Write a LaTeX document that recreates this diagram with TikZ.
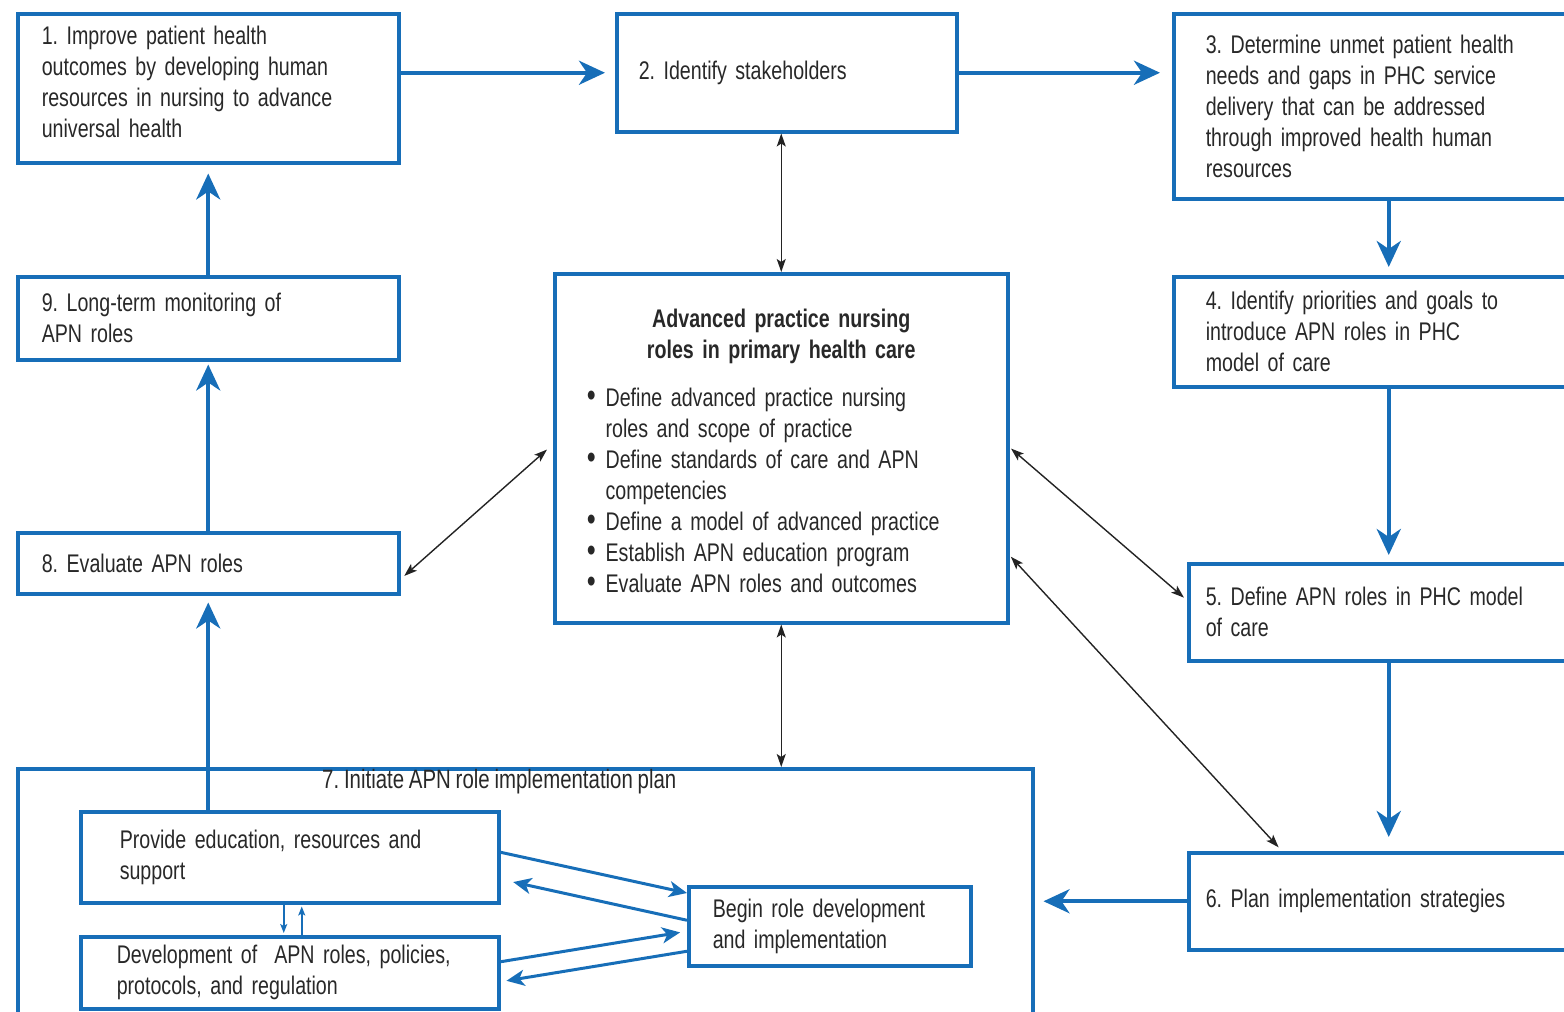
\documentclass[tikz,border=0pt]{standalone}
\usepackage{fontspec}
\setmainfont{Liberation Sans}[FakeStretch=0.77,WordSpace=0.85]
\usepackage{tikz}
\usetikzlibrary{arrows.meta}
\frenchspacing

\begin{document}
\begin{tikzpicture}[x=1pt,y=1pt,yscale=-1,xscale=1,
    box/.style={draw={rgb, 255:red, 23; green, 110; blue, 184 }, line width=3.5pt, anchor=north west, inner ysep=0pt, align=left, text={rgb, 255:red, 40; green, 40; blue, 40 }, font=\fontsize{25.5}{31}\selectfont},
    flow/.style={draw={rgb, 255:red, 23; green, 110; blue, 184 }, line width=4pt, -{Stealth[length=26pt,width=24pt,inset=8pt]}},
    inflow/.style={draw={rgb, 255:red, 23; green, 110; blue, 184 }, line width=3pt, -{Stealth[length=18pt,width=16pt,inset=5pt]}},
    tinyflow/.style={draw={rgb, 255:red, 23; green, 110; blue, 184 }, line width=1.5pt, -{Stealth[length=9pt,width=7pt,inset=2pt]}},
    link/.style={draw={rgb, 255:red, 35; green, 35; blue, 35 }, line width=1.4pt, {Stealth[length=13pt,width=9pt,inset=3pt]}-{Stealth[length=13pt,width=9pt,inset=3pt]}}]
      \useasboundingbox (0,0) rectangle (1564,1012);
      \clip (0,0) rectangle (1564,1012);

      %Shape: Rectangle [outer boxes]
      \node [box, inner xsep=24pt, text width=333pt, minimum height=149pt] (b1) at (16,12) {1. Improve patient health\\outcomes by developing human\\resources in nursing to advance\\universal health\par\vspace*{12pt}};
      \node [box, inner xsep=22pt, text width=296pt, minimum height=118pt] (b2) at (615,12) {2. Identify stakeholders};
      \node [box, inner xsep=32pt, text width=366pt, minimum height=185pt] (b3) at (1172,12) {3. Determine unmet patient health\\needs and gaps in PHC service\\delivery that can be addressed\\through improved health human\\resources};
      \node [box, inner xsep=32pt, text width=366pt, minimum height=110pt] (b4) at (1172,275) {4. Identify priorities and goals to\\introduce APN roles in PHC\\model of care};
      \node [box, inner xsep=17pt, text width=366pt, minimum height=97pt] (b5) at (1187,562) {5. Define APN roles in PHC model\\of care};
      \node [box, inner xsep=17pt, text width=366pt, minimum height=97pt] (b6) at (1187,851) {6. Plan implementation strategies};
      \node [box, minimum width=1015pt, minimum height=270pt] (b7) at (16,767) {};
      \node [box, inner xsep=24pt, text width=333pt, minimum height=61pt] (b8) at (16,531) {8. Evaluate APN roles};
      \node [box, inner xsep=24pt, text width=333pt, minimum height=83pt] (b9) at (16,275) {9. Long-term monitoring of\\APN roles};

      %Shape: Rectangle [centre box]
      \node [box, inner xsep=32pt, text width=389pt, minimum height=349pt] (apn) at (553,272) {{\centering\bfseries\rule{0pt}{33pt}Advanced practice nursing\\roles in primary health care\par}\vspace{17pt}\noindent
        \begin{tabular}[t]{@{}l@{\hspace{10pt}}l@{}}
          {\fontsize{33}{31}\selectfont\textbullet} & Define advanced practice nursing\\
                      & roles and scope of practice\\
          {\fontsize{33}{31}\selectfont\textbullet} & Define standards of care and APN\\
                      & competencies\\
          {\fontsize{33}{31}\selectfont\textbullet} & Define a model of advanced practice\\
          {\fontsize{33}{31}\selectfont\textbullet} & Establish APN education program\\
          {\fontsize{33}{31}\selectfont\textbullet} & Evaluate APN roles and outcomes
        \end{tabular}};

      %Shape: Rectangle [inside box 7]
      \node [box, inner xsep=39pt, text width=340pt, minimum height=91pt] (pro) at (79,810) {Provide education, resources and\\support};
      \node [box, inner xsep=36pt, text width=346pt, minimum height=72pt] (dev) at (79,935) {Development of~ APN roles, policies,\\protocols, and regulation};
      \node [box, inner xsep=24pt, text width=234pt, minimum height=79pt] (bg) at (687,885) {Begin role development\\and implementation};

      % Text Node
      \node [anchor=west, inner sep=0pt, text={rgb, 255:red, 40; green, 40; blue, 40 }, font=\fontsize{26.5}{31}\selectfont] (lab7) at (322,782) {7. Initiate APN role implementation plan};

      %Straight Lines [main cycle]
      \draw [flow, shorten >=10pt] (b1.east |- b2.west) -- (b2.west);
      \draw [flow, shorten >=12pt] (b2.east) -- (b2.east -| b3.west);
      \draw [flow, shorten >=8pt] (b3.south) -- (b4.north);
      \draw [flow, shorten >=7pt] (b4.south) -- (b5.north);
      \draw [flow, shorten >=14pt] (b5.south) -- (b6.north);
      \draw [flow, shorten >=9pt] (b6.west) -- (b6.west -| b7.east);
      \draw [flow, shorten >=7pt] (b8.south |- pro.north) -- (b8.south);
      \draw [flow, shorten >=3pt] (b8.north) -- (b9.south);
      \draw [flow, shorten >=9pt] (b9.north) -- (b1.south);

      %Straight Lines [links to centre box]
      \draw [link] (apn.north |- b2.south) -- (apn.north);
      \draw [link] (apn.south) -- (apn.south |- b7.north);
      \draw [link, shorten <=8pt, shorten >=5pt] ([yshift=-4pt]apn.west) -- ([yshift=16pt]b8.east);
      \draw [link, shorten <=2pt, shorten >=4pt] ([yshift=-1pt]apn.east) -- ([yshift=-12pt]b5.west);
      \draw [link, shorten <=2pt, shorten >=5pt] ([yshift=107pt]apn.east) -- ([xshift=95pt]b6.north west);

      %Straight Lines [inside box 7]
      \draw [inflow] ([yshift=-5pt]pro.east) -- ([yshift=8pt]bg.north west);
      \draw [inflow, shorten >=13pt] ([yshift=-6pt]bg.west) -- ([yshift=22pt]pro.east);
      \draw [inflow, shorten >=7pt] ([yshift=-11pt]dev.east) -- ([yshift=5pt]bg.west);
      \draw [inflow, shorten >=6pt] ([yshift=25pt]bg.west) -- ([yshift=9pt]dev.east);
      \draw [tinyflow, shorten >=2pt] ([xshift=-6pt]pro.south) -- ([xshift=-6pt]dev.north);
      \draw [tinyflow, shorten >=2pt] ([xshift=12pt]dev.north) -- ([xshift=12pt]pro.south);
\end{tikzpicture}
\end{document}
